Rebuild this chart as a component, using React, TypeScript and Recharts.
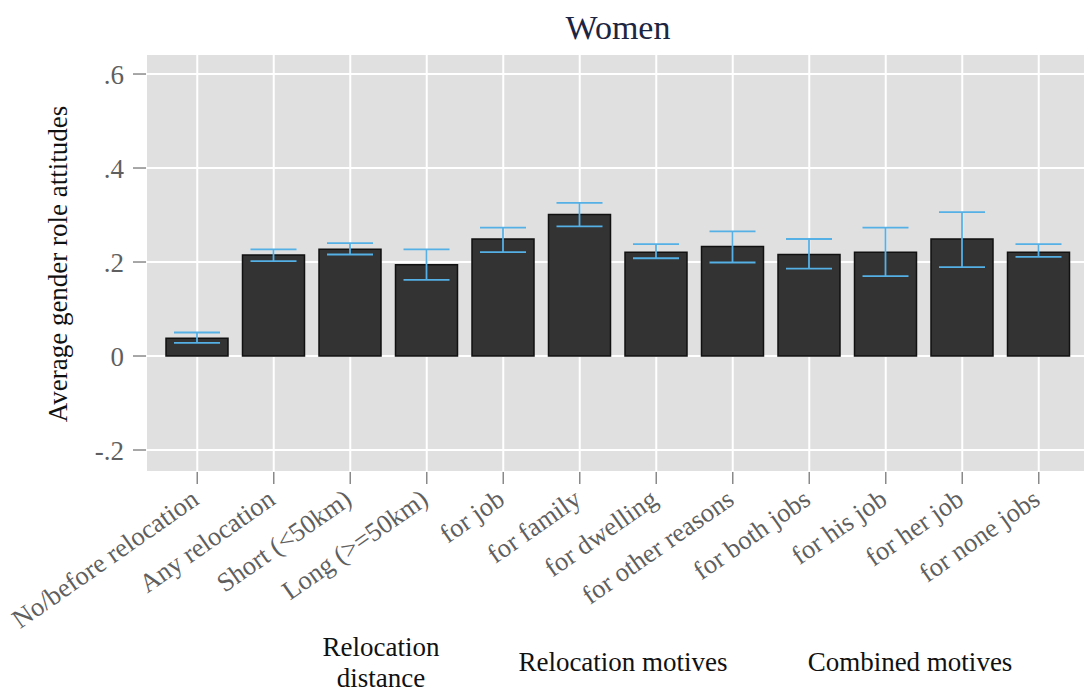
import { BarChart, Bar, XAxis, YAxis, CartesianGrid, ErrorBar } from "recharts";

const CATEGORIES = [
  "No/before relocation",
  "Any relocation",
  "Short (<50km)",
  "Long (>=50km)",
  "for job",
  "for family",
  "for dwelling",
  "for other reasons",
  "for both jobs",
  "for his job",
  "for her job",
  "for none jobs",
];

const MEANS = [0.038, 0.215, 0.227, 0.194, 0.249, 0.301, 0.221, 0.233, 0.216, 0.221, 0.249, 0.221];
const CI_LOW = [0.028, 0.202, 0.216, 0.162, 0.221, 0.276, 0.208, 0.199, 0.186, 0.17, 0.189, 0.211];
const CI_HIGH = [0.05, 0.227, 0.24, 0.227, 0.273, 0.326, 0.238, 0.265, 0.249, 0.273, 0.306, 0.238];

const Y_TICKS = [-0.2, 0, 0.2, 0.4, 0.6];

const GROUP_LABELS = [["Relocation", "distance"], ["Relocation motives"], ["Combined motives"]];

const TITLE = "Women";
const Y_TITLE = "Average gender role attitudes";

const FONT = "'Liberation Serif', 'Times New Roman', serif";

const data = CATEGORIES.map((name, i) => ({
  name,
  mean: MEANS[i],
  err: [MEANS[i] - CI_LOW[i], CI_HIGH[i] - MEANS[i]],
}));

// stata style: ".2" instead of "0.2"
const fmtY = (v: number) => (v === 0 ? "0" : v.toFixed(1).replace("0.", "."));

function XTick(props: any) {
  const { x, y, payload } = props;
  // baseline end sits just below-right of the tick
  const ax = x + 3;
  const ay = y + 19;
  return (
    <text
      x={ax}
      y={ay}
      transform={`rotate(-35 ${ax} ${ay})`}
      textAnchor="end"
      fill="#5f5f5f"
      fontSize={26.5}
      fontFamily={FONT}
    >
      {payload.value}
    </text>
  );
}

// x centre of each group caption
const GROUP_X = [381, 623, 910];

export default function App() {
  return (
    <div
      style={{
        position: "absolute",
        left: 0,
        top: 0,
        width: 1092,
        height: 693,
        background: "#fff",
        fontFamily: FONT,
      }}
    >
      <BarChart
        width={1092}
        height={693}
        data={data}
        margin={{ top: 54, right: 7, left: 0, bottom: 0 }}
      >
        <CartesianGrid fill="#e0e0e0" stroke="#ffffff" strokeWidth={2} />
        <XAxis
          dataKey="name"
          interval={0}
          height={221}
          padding={{ left: 13, right: 8 }}
          axisLine={false}
          tickSize={12}
          tickMargin={0}
          tickLine={{ stroke: "#8a8a8a", strokeWidth: 1.5 }}
          tick={<XTick />}
        />
        <YAxis
          width={146}
          domain={[-0.2468, 0.6426]}
          allowDataOverflow
          ticks={Y_TICKS}
          tickFormatter={fmtY}
          axisLine={false}
          tickSize={13}
          tickMargin={9}
          tickLine={{ stroke: "#8a8a8a", strokeWidth: 1.5 }}
          tick={{ fill: "#5f5f5f", fontSize: 27, fontFamily: FONT }}
        />
        <Bar
          dataKey="mean"
          fill="#333333"
          stroke="#111111"
          strokeWidth={1.5}
          barSize={62}
          isAnimationActive={false}
        >
          <ErrorBar
            dataKey="err"
            direction="y"
            width={23}
            stroke="#55b0e6"
            strokeWidth={1.8}
          />
        </Bar>
      </BarChart>
      <svg
        width={1092}
        height={693}
        style={{ position: "absolute", left: 0, top: 0, pointerEvents: "none" }}
      >
        <text x={618} y={39} textAnchor="middle" fontSize={34} fill="#1c2541" fontFamily={FONT}>
          {TITLE}
        </text>
        <text
          x={67}
          y={264}
          transform="rotate(-90 67 264)"
          textAnchor="middle"
          fontSize={27}
          fill="#111"
          fontFamily={FONT}
        >
          {Y_TITLE}
        </text>
        {GROUP_LABELS.map((lines, gi) => {
          const top = lines.length > 1 ? 656 : 671;
          return lines.map((line, li) => (
            <text
              key={`${gi}-${li}`}
              x={GROUP_X[gi]}
              y={top + li * 31}
              textAnchor="middle"
              fontSize={27}
              fill="#111"
              fontFamily={FONT}
            >
              {line}
            </text>
          ));
        })}
      </svg>
    </div>
  );
}
